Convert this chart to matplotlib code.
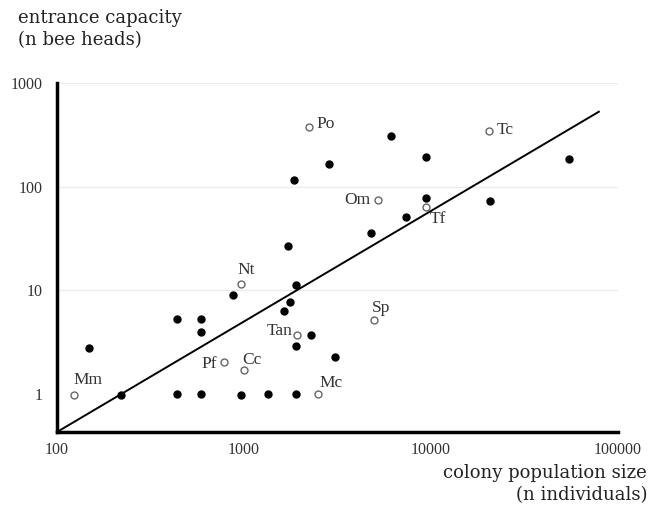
import numpy as np
import matplotlib
matplotlib.use("Agg")
import matplotlib.pyplot as plt

# species without a name (filled dots): colony size, entrance capacity
pop_dots = [148, 219, 440, 440, 590, 590, 590, 873, 964, 1343, 1892, 1892,
            1758, 1633, 1892, 2270, 3050, 1714, 1845, 2831, 6120, 9400,
            9400, 4800, 7360, 20600, 54800]
cap_dots = [2.77, 0.98, 5.26, 1.0, 5.26, 3.94, 1.0, 8.96, 0.97, 1.0, 1.0, 11.2,
            7.67, 6.28, 2.9, 3.69, 2.27, 26.5, 117, 166, 309, 194,
            78, 35.3, 50.4, 71.8, 186]

# named species (open circles)
names = ["Po", "Tc", "Om", "Tf", "Sp", "Nt", "Tan", "Pf", "Cc", "Mm", "Mc"]
pop_named = [2235, 20300, 5180, 9370, 4930, 968, 1923, 785, 1000, 123, 2480]
cap_named = [378, 345, 75, 62.9, 5.18, 11.5, 3.72, 2.02, 1.68, 0.98, 1.0]
# label offset in pixels and alignment
label_off = [(7, 3, "left"), (8, 1, "left"), (-7, 0, "right"), (4, -12, "left"),
             (-2, 12, "left"), (-4, 14, "left"), (-5, 4, "right"), (-7, -2, "right"),
             (-2, 10, "left"), (0, 15, "left"), (2, 11, "left")]

# fitted line ends
fit_x = [100, 79000]
fit_y = [0.427, 528]

yticks = [1, 10, 100, 1000]
xticks = [100, 1000, 10000, 100000]

fig = plt.figure(figsize=(6.64, 5.08), dpi=100)
ax = fig.add_axes([57 / 664, 1 - 432 / 508, (618 - 57) / 664, (432 - 83) / 508])
ax.set_xscale("log")
ax.set_yscale("log")
ax.set_xlim(100, 100000)
ax.set_ylim(0.427, 1000)

for g in [10, 100, 1000]:
    ax.axhline(g, color="#ececec", lw=1, zorder=0)

ax.plot(fit_x, fit_y, color="black", lw=1.4, zorder=2, clip_on=False)
ax.plot(pop_dots, cap_dots, "o", color="black", ms=5, zorder=3)
ax.plot(pop_named, cap_named, "o", mfc="white", mec="#666666", mew=1, ms=5, zorder=3)

for n, x, y, (dx, dy, ha) in zip(names, pop_named, cap_named, label_off):
    ax.annotate(n, (x, y), xytext=(dx, dy), textcoords="offset pixels",
                ha=ha, va="center", fontsize=12.5, color="#333333",
                family="Liberation Serif")

for s in ["top", "right"]:
    ax.spines[s].set_visible(False)
ax.spines["left"].set_linewidth(2.5)
ax.spines["bottom"].set_linewidth(2.5)

ax.set_xticks(xticks)
ax.set_xticklabels([str(t) for t in xticks])
ax.set_yticks(yticks)
ax.set_yticklabels([str(t) for t in yticks])
ax.minorticks_off()
ax.tick_params(length=0, labelsize=11.5, labelcolor="#333333")
ax.tick_params(axis="x", pad=7)
ax.tick_params(axis="y", pad=10)
for lab in ax.get_xticklabels():
    lab.set_family("Liberation Serif")
    lab.set_x(lab.get_position()[0])
for lab in ax.get_yticklabels():
    lab.set_family("Liberation Serif")

fig.text(18 / 664, 1 - 9 / 508, "entrance capacity\n(n bee heads)", ha="left",
         va="top", fontsize=13, family="DejaVu Serif", color="#222222",
         linespacing=1.3)
fig.text(647 / 664, 1 - 464 / 508, "colony population size\n(n individuals)",
         ha="right", va="top", multialignment="right", fontsize=13,
         family="DejaVu Serif", color="#222222", linespacing=1.3)

fig.savefig("out.png", dpi=100)
